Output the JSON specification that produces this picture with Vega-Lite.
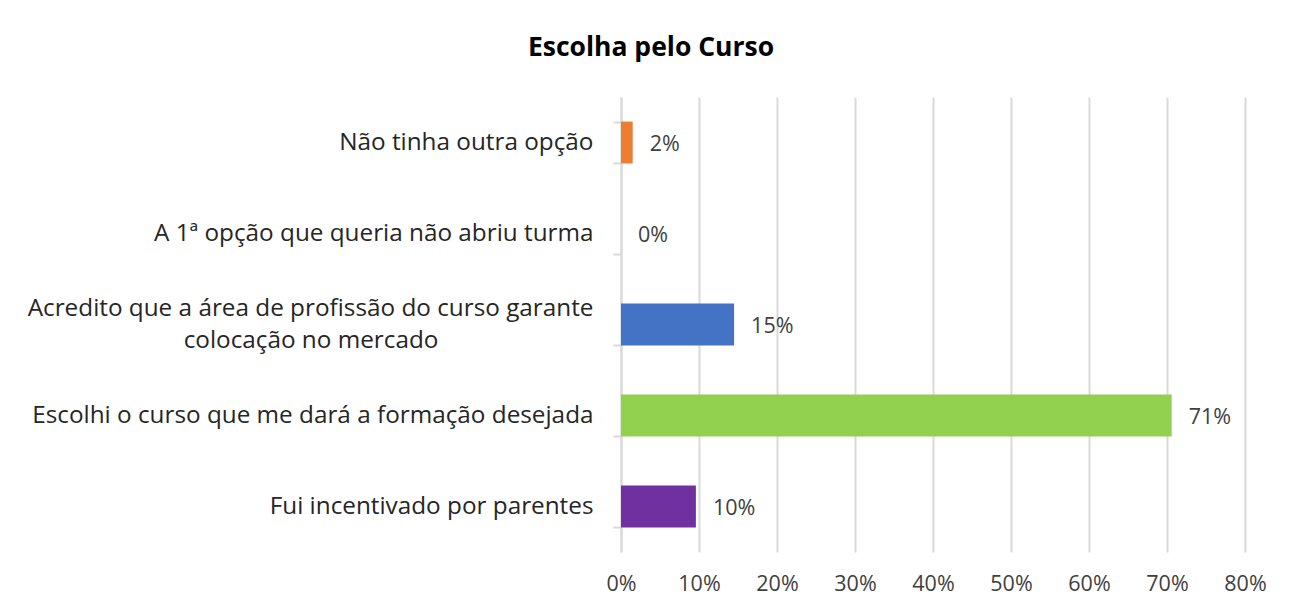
{
  "$schema": "https://vega.github.io/schema/vega-lite/v6.json",
  "autosize": "none",
  "width": 624,
  "height": 455,
  "padding": {"left": 621, "top": 97, "right": 57, "bottom": 58},
  "background": "white",
  "config": {"view": {"stroke": null}},
  "title": {
    "text": "Escolha pelo Curso",
    "font": "Open Sans",
    "fontSize": 26.5,
    "fontWeight": "bold",
    "color": "#000000",
    "anchor": "middle",
    "dx": -282,
    "offset": 24
  },
  "data": {
    "values": [
      {"cat": "Não tinha outra opção", "value": 0.015, "label": "2%"},
      {"cat": "A 1ª opção que queria não abriu turma", "value": 0, "label": "0%"},
      {"cat": "Acredito que a área de profissão do curso garante colocação no mercado", "value": 0.145, "label": "15%"},
      {"cat": "Escolhi o curso que me dará a formação desejada", "value": 0.706, "label": "71%"},
      {"cat": "Fui incentivado por parentes", "value": 0.096, "label": "10%"}
    ]
  },
  "encoding": {
    "y": {
      "field": "cat",
      "type": "nominal",
      "sort": null,
      "scale": {"paddingInner": 0.54, "paddingOuter": 0.27},
      "axis": {
        "title": null,
        "domainColor": "#d9d9d9",
        "domainWidth": 2,
        "tickColor": "#d9d9d9",
        "tickWidth": 2,
        "tickSize": 8,
        "tickBand": "extent",
        "labelFont": "Open Sans",
        "labelFontSize": 24.3,
        "labelColor": "#262626",
        "labelPadding": 20,
        "labelLimit": 700,
        "labelExpr": "datum.value == 'Acredito que a área de profissão do curso garante colocação no mercado' ? 'Acredito que a área de profissão do curso garante' : datum.value",
        "labelOffset": {"condition": {"test": "datum.value == 'Acredito que a área de profissão do curso garante colocação no mercado'", "value": -16}, "value": 0}
      }
    }
  },
  "layer": [
    {
      "mark": {"type": "bar"},
      "encoding": {
        "x": {
          "field": "value",
          "type": "quantitative",
          "scale": {"domain": [0, 0.8], "nice": false},
          "axis": {
            "title": null,
            "format": ".0%",
            "values": [0, 0.1, 0.2, 0.3, 0.4, 0.5, 0.6, 0.7, 0.8],
            "domain": false,
            "ticks": false,
            "grid": true,
            "gridColor": "#d9d9d9",
            "gridWidth": 2,
            "labelFlush": false,
            "labelFont": "Open Sans",
            "labelFontSize": 21.5,
            "labelColor": "#404040",
            "labelPadding": 21
          }
        },
        "color": {
          "field": "cat",
          "type": "nominal",
          "legend": null,
          "scale": {
            "domain": ["Não tinha outra opção", "A 1ª opção que queria não abriu turma", "Acredito que a área de profissão do curso garante colocação no mercado", "Escolhi o curso que me dará a formação desejada", "Fui incentivado por parentes"],
            "range": ["#ED7D31", "#A5A5A5", "#4472C4", "#92D050", "#7030A0"]
          }
        }
      }
    },
    {
      "mark": {"type": "text", "align": "left", "baseline": "middle", "dx": 17, "dy": 2, "font": "Open Sans", "fontSize": 21.5, "color": "#404040"},
      "encoding": {
        "x": {"field": "value", "type": "quantitative"},
        "text": {"field": "label"}
      }
    },
    {
      "data": {"values": [{"cat": "Acredito que a área de profissão do curso garante colocação no mercado", "line2": "colocação no mercado", "pos": 0}]},
      "mark": {"type": "text", "align": "center", "baseline": "middle", "dx": -310, "dy": 16, "font": "Open Sans", "fontSize": 24.3, "color": "#262626"},
      "encoding": {
        "x": {"field": "pos", "type": "quantitative"},
        "text": {"field": "line2"}
      }
    }
  ]
}
